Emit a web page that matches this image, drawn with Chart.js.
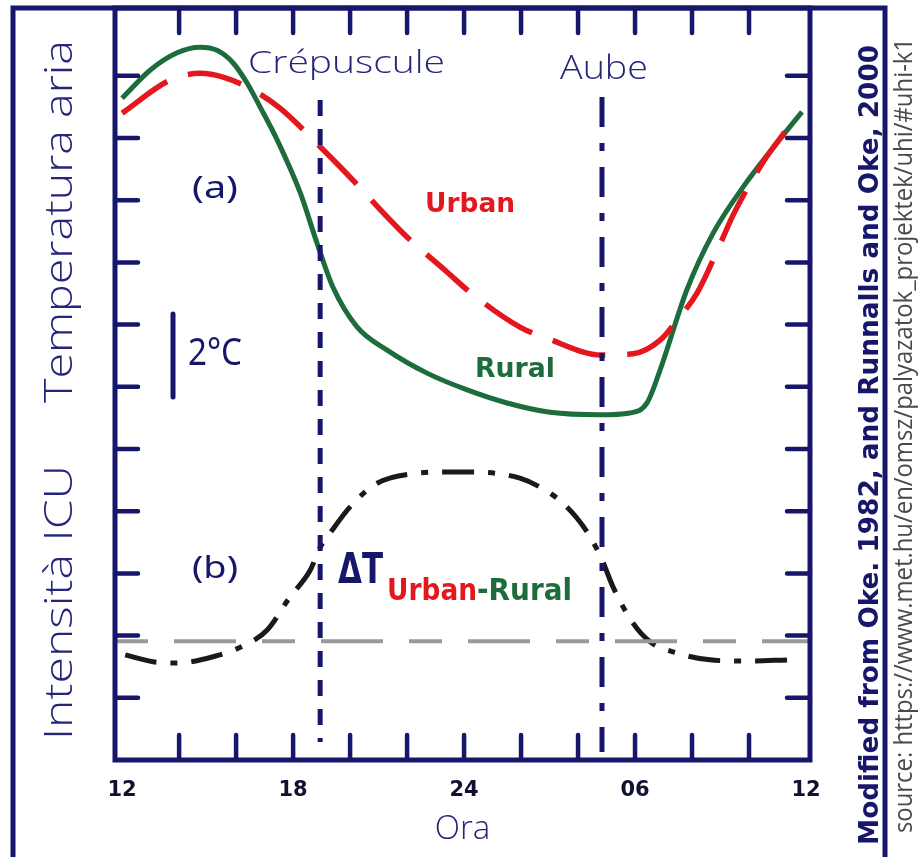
<!DOCTYPE html>
<html lang="it">
<head>
<meta charset="UTF-8">
<title>Isola di calore urbana</title>
<script src="https://cdn.jsdelivr.net/npm/chart.js"></script>
<style>
  body { margin: 0; background: #fff; }
  #wrap { width: 918px; height: 857px; }
</style>
</head>
<body>
<div id="wrap"><canvas id="uhi" width="918" height="857"></canvas></div>
<script>
// asse orizzontale: ore da mezzogiorno (12) a mezzogiorno del giorno dopo (36)
const hourTicks = [12, 18, 24, 30, 36];
const hourLabels = ['12', '18', '24', '06', '12'];
const minorHours = [14, 16, 18, 20, 22, 24, 26, 28, 30, 32, 34];
const levelTicks = [1, 2, 3, 4, 5, 6, 7, 8, 9, 10, 11];

// (a) temperatura aria, unità = una tacca dell'asse
const ruralHours = [12.00, 12.98, 13.93, 14.74, 15.33, 15.89, 16.39, 16.84, 17.44, 18.25, 18.84, 19.40, 20.25, 21.30, 22.70, 24.11, 25.51, 27.02, 28.77, 29.82, 30.42, 30.88, 31.82, 32.74, 33.79, 34.98, 35.86];
const ruralTemp  = [10.64, 11.09, 11.37, 11.46, 11.41, 11.21, 10.88, 10.50, 9.97, 9.12, 8.31, 7.60, 6.96, 6.59, 6.22, 5.95, 5.74, 5.59, 5.55, 5.58, 5.74, 6.27, 7.56, 8.47, 9.21, 9.92, 10.42];

const urbanHours = [12.00, 13.68, 14.74, 15.54, 16.60, 17.54, 18.95, 19.75, 21.86, 23.44, 24.21, 25.96, 26.91, 28.84, 29.93, 30.88, 31.47, 32.18, 33.05, 33.44, 34.49, 35.26];
const urbanTemp  = [10.40, 10.93, 11.04, 10.98, 10.77, 10.48, 9.86, 9.49, 8.47, 7.83, 7.52, 6.96, 6.78, 6.51, 6.53, 6.75, 7.07, 7.51, 8.36, 8.76, 9.61, 10.10];

// (b) intensità ICU (differenza urbano - rurale)
const icuHours  = [12.11, 13.09, 13.93, 15.19, 16.32, 17.09, 17.89, 18.60, 18.95, 19.30, 20.00, 20.95, 22.35, 23.44, 24.21, 25.96, 27.02, 27.47, 27.96, 28.42, 28.84, 29.23, 29.93, 30.53, 31.47, 32.63, 33.93, 35.37];
const icuValues = [1.69, 1.58, 1.56, 1.66, 1.85, 2.09, 2.62, 3.05, 3.42, 3.65, 4.07, 4.45, 4.61, 4.63, 4.63, 4.53, 4.29, 4.13, 3.89, 3.59, 3.22, 2.78, 2.20, 1.90, 1.72, 1.61, 1.59, 1.61];

const zeroLevel = 1.91;
const duskHour = 18.95, duskRange = [10.61, 0.29];
const dawnHour = 28.84, dawnRange = [10.66, 0.13];

const NAVY = '#16166b';
const TEXT_NAVY = '#25257a';
const RED = '#e3171d';
const GREEN = '#1c6c3c';

const pts = (xs, ys) => xs.map((x, i) => ({ x: x, y: ys[i] }));

function txt(ctx, s, x, y, font, color, w, rot) {
  ctx.save();
  ctx.font = font;
  ctx.fillStyle = color;
  ctx.textAlign = 'left';
  ctx.textBaseline = 'alphabetic';
  ctx.translate(x, y);
  if (rot) ctx.rotate(rot);
  if (w) ctx.scale(w / ctx.measureText(s).width, 1);
  ctx.fillText(s, 0, 0);
  ctx.restore();
}

const framePlugin = {
  id: 'frame',
  afterDatasetsDraw(chart) {
    const ctx = chart.ctx;
    const a = chart.chartArea;
    const xs = chart.scales.x, ys = chart.scales.y;
    ctx.save();
    ctx.strokeStyle = NAVY;
    ctx.lineCap = 'butt';
    // cornice esterna
    ctx.lineWidth = 5;
    ctx.strokeRect(13, 8, 872, 862);
    // riquadro del grafico
    ctx.strokeRect(a.left, a.top, a.right - a.left, a.bottom - a.top);
    // tacche interne
    ctx.lineWidth = 4.5;
    ctx.lineCap = 'round';
    ctx.beginPath();
    minorHours.forEach(h => {
      const px = xs.getPixelForValue(h);
      ctx.moveTo(px, a.top); ctx.lineTo(px, a.top + 25);
      ctx.moveTo(px, a.bottom); ctx.lineTo(px, a.bottom - 25);
    });
    levelTicks.forEach(v => {
      const py = ys.getPixelForValue(v);
      ctx.moveTo(a.left, py); ctx.lineTo(a.left + 23, py);
      ctx.moveTo(a.right, py); ctx.lineTo(a.right - 23, py);
    });
    ctx.stroke();
    // barra di scala 2°C
    ctx.lineWidth = 5;
    ctx.beginPath();
    ctx.moveTo(173, 314); ctx.lineTo(173, 397);
    ctx.stroke();
    ctx.restore();
  },
  afterDraw(chart) {
    const ctx = chart.ctx;
    const up = -Math.PI / 2;
    txt(ctx, 'Crépuscule', 248, 73, '300 32px "Open Sans"', TEXT_NAVY, 197);
    txt(ctx, 'Aube', 560, 79, '300 33px "Open Sans"', TEXT_NAVY, 88);
    txt(ctx, '(a)', 192, 198, '30px "Noto Sans"', NAVY, 46);
    txt(ctx, '(b)', 192, 578, '30px "Noto Sans"', NAVY, 46);
    txt(ctx, '2°C', 188, 365, '38px "Noto Sans"', NAVY, 54);
    txt(ctx, 'Urban', 425, 212, 'bold 27px "DejaVu Sans"', RED, 90);
    txt(ctx, 'Rural', 475, 377, 'bold 27px "DejaVu Sans"', GREEN, 80);
    txt(ctx, 'ΔT', 338, 583, 'bold 42px "DejaVu Sans"', NAVY, 45);
    txt(ctx, 'Urban', 387, 600, 'bold 30px "DejaVu Sans"', RED, 90);
    txt(ctx, '-Rural', 477, 600, 'bold 30px "DejaVu Sans"', GREEN, 95);
    txt(ctx, 'Temperatura aria', 72, 403, '300 38px "Open Sans"', TEXT_NAVY, 363, up);
    txt(ctx, 'Intensità ICU', 72, 740, '300 38px "Open Sans"', TEXT_NAVY, 275, up);
    txt(ctx, 'Modified from Oke. 1982, and Runnalls and Oke, 2000', 878, 845, 'bold 26px "DejaVu Sans"', NAVY, 800, up);
    txt(ctx, 'source: https://www.met.hu/en/omsz/palyazatok_projektek/uhi/#uhi-k1', 912, 833, '26px "Open Sans"', '#4a4a4a', 795, up);
  }
};

new Chart(document.getElementById('uhi'), {
  type: 'line',
  data: {
    datasets: [
      {
        label: 'Zero',
        data: [{ x: 11.75, y: zeroLevel }, { x: 36.14, y: zeroLevel }],
        borderColor: '#9a9a9a', borderWidth: 4, borderDash: [33, 26, 62, 26]
      },
      {
        label: 'Crépuscule',
        data: [{ x: duskHour, y: duskRange[0] }, { x: duskHour, y: duskRange[1] }],
        borderColor: NAVY, borderWidth: 5, borderDash: [16, 13]
      },
      {
        label: 'Aube',
        data: [{ x: dawnHour, y: dawnRange[0] }, { x: dawnHour, y: dawnRange[1] }],
        borderColor: NAVY, borderWidth: 5, borderDash: [30, 16, 8, 16]
      },
      {
        label: 'Urban',
        data: pts(urbanHours, urbanTemp),
        borderColor: RED, borderWidth: 5.5, borderDash: [55, 22],
        tension: 0.4, cubicInterpolationMode: 'monotone'
      },
      {
        label: 'Rural',
        data: pts(ruralHours, ruralTemp),
        borderColor: GREEN, borderWidth: 5,
        tension: 0.4, cubicInterpolationMode: 'monotone'
      },
      {
        label: 'ΔT Urban-Rural',
        data: pts(icuHours, icuValues),
        borderColor: '#1a1a1a', borderWidth: 5, borderDash: [32, 14, 7, 14],
        tension: 0.4, cubicInterpolationMode: 'monotone'
      }
    ]
  },
  options: {
    responsive: false,
    animation: false,
    layout: { padding: { left: 115, top: 8, right: 108, bottom: 0 } },
    plugins: { legend: { display: false }, tooltip: { enabled: false } },
    elements: { point: { radius: 0 } },
    scales: {
      x: {
        type: 'linear', min: 11.75, max: 36.14,
        afterFit: s => { s.height = 97; },
        afterBuildTicks: s => { s.ticks = hourTicks.map(v => ({ value: v })); },
        ticks: {
          callback: (v, i) => hourLabels[i],
          font: { family: 'DejaVu Sans', weight: 'bold', size: 21 },
          color: '#101030', padding: 10, maxRotation: 0, autoSkip: false
        },
        grid: { display: false },
        border: { display: false },
        title: {
          display: true, text: 'Ora', color: TEXT_NAVY,
          font: { family: 'Open Sans', weight: '300', size: 33 },
          padding: { top: 0, bottom: 8 }
        }
      },
      y: { display: false, min: 0, max: 12.09 }
    }
  },
  plugins: [framePlugin]
});
</script>
</body>
</html>
